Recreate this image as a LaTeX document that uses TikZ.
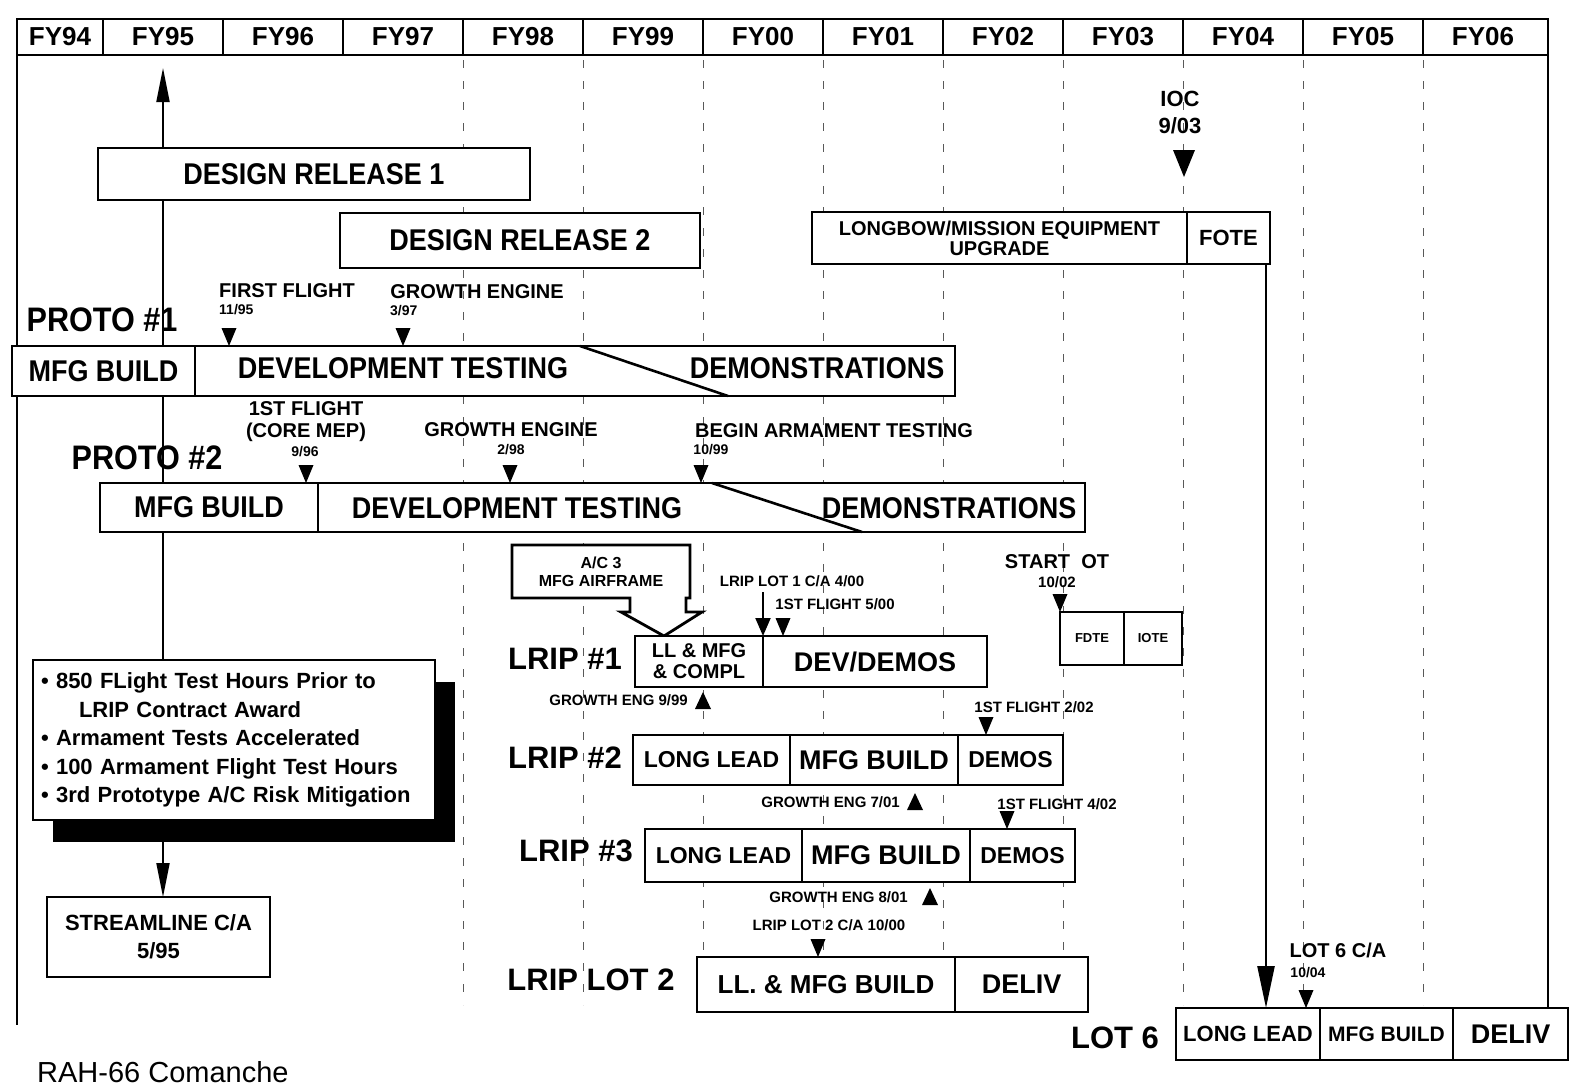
\documentclass[tikz,border=0pt]{standalone}
\usepackage{fontspec}
\setmainfont{Liberation Sans}
\newfontfamily\condfont{Liberation Sans}[FakeStretch=0.9]
\usetikzlibrary{positioning,arrows.meta,shadows,calc,backgrounds}

\newcommand{\fsz}[2]{\fontsize{#1pt}{#2pt}\selectfont}
\newcommand{\tridn}[2]{\fill (#1-7.5,#2-18) -- (#1+7.5,#2-18) -- (#1,#2) -- cycle;}
\newcommand{\triup}[2]{\fill (#1-8,#2) -- (#1+8,#2) -- (#1,#2-17) -- cycle;}

\begin{document}
\begin{tikzpicture}[x=1pt, y=-1pt]

		\tikzset{
		    seg/.style={draw, line width=2.6pt, fill=white, inner sep=0pt, outer sep=0pt, align=center, font=\bfseries\fsz{23}{25}},
		    proto/.style={seg, font=\condfont\bfseries\fsz{30}{32}},
		    bartext/.style={font=\condfont\bfseries\fsz{30}{32}, inner sep=0pt},
		    rowlab/.style={font=\bfseries\fsz{31}{33}, inner sep=0pt},
		    hdr/.style={font=\bfseries\fsz{26}{28}, inner sep=0pt},
		    ms/.style={font=\bfseries\fsz{20}{22}, align=center, inner sep=0pt},
		    msdate/.style={font=\bfseries\fsz{14}{15}, inner sep=0pt},
		    mssmall/.style={font=\bfseries\fsz{15}{16}, inner sep=0pt},
		    gridline/.style={line width=1pt, dash pattern=on 8pt off 13pt, black!65},
		    bigarrow/.style={line width=2pt, -{Triangle[width=13pt,length=34pt]}},
		    callarrow/.style={line width=2pt, -{Triangle[width=15pt,length=18pt]}},
		    notebox/.style={draw, line width=2.6pt, fill=white, inner xsep=8pt, inner ysep=0pt, outer sep=0pt,
		      align=left, text width=386pt, font=\bfseries\fsz{22}{28.5}}
		}

		\useasboundingbox (0,0) rectangle (1571,1090);

		% Fiscal years
		\draw[line width=2.6pt] (17,19) rectangle (1548,55);
		\foreach \x in {103,223,...,1423} \draw[line width=2.6pt] (\x,19) -- (\x,55);
		\node[hdr] (fy94) at (60,37) {FY94};
		\foreach \yr [count=\k from 0] in {95,96,97,98,99,00,01,02,03,04,05,06}
		  \node[hdr] (fy\yr) at (163+120*\k,37) {FY\yr};
		\draw[line width=2.6pt] (17,55) -- (17,1025);
		\draw[line width=2.6pt] (1548,55) -- (1548,1008);
		\foreach \x in {463,583,...,1423} \draw[gridline] (\x,60) -- (\x,1005);

		% Design releases
		\node[proto, minimum width=432pt, minimum height=52pt, anchor=north west] (dr1) at (98,148) {DESIGN RELEASE 1};
		\node[proto, minimum width=360pt, minimum height=55pt, anchor=north west] (dr2) at (340,213) {DESIGN RELEASE 2};

		% Prototype 1
		\node[rowlab, font=\condfont\bfseries\fsz{34}{36}] (p1lab) at (102,320) {PROTO \#1};
		\node[ms] (p1ff) at (287,291) {FIRST FLIGHT};
		\node[msdate, anchor=west] (p1ffd) at (219,310) {11/95};
		\node[ms] (p1ge) at (477,292) {GROWTH ENGINE};
		\node[msdate, anchor=west] (p1ged) at (390,311) {3/97};
		\tridn{229}{346}
		\tridn{403}{346}
		\node[proto, minimum width=183pt, minimum height=50pt, anchor=north west] (p1mfg) at (12,346) {MFG BUILD};
		\node[proto, minimum width=760pt, minimum height=50pt, right=0pt of p1mfg] (p1dev) {};
		\draw[line width=2.6pt] ($(p1dev.north west)+(385,0)$) -- ($(p1dev.south west)+(533,0)$);
		\node[bartext] (p1devt) at (403,368) {DEVELOPMENT TESTING};
		\node[bartext] (p1demo) at (817,368) {DEMONSTRATIONS};

		% Prototype 2
		\node[rowlab, font=\condfont\bfseries\fsz{34}{36}] (p2lab) at (147,458) {PROTO \#2};
		\node[ms] (p2ff) at (306,422) {1ST FLIGHT\\(CORE MEP)};
		\node[msdate] (p2ffd) at (305,452) {9/96};
		\node[ms] (p2ge) at (511,430) {GROWTH ENGINE};
		\node[msdate] (p2ged) at (511,450) {2/98};
		\node[ms] (p2arm) at (834,431) {BEGIN ARMAMENT TESTING};
		\node[msdate] (p2armd) at (711,450) {10/99};
		\tridn{306}{483}
		\tridn{510}{483}
		\tridn{701}{483}
		\node[proto, minimum width=218pt, minimum height=49pt, anchor=north west] (p2mfg) at (100,483) {MFG BUILD};
		\node[proto, minimum width=767pt, minimum height=49pt, right=0pt of p2mfg] (p2dev) {};
		\draw[line width=2.6pt] ($(p2dev.north west)+(394,0)$) -- ($(p2dev.south west)+(544,0)$);
		\node[bartext] (p2devt) at (517,508) {DEVELOPMENT TESTING};
		\node[bartext] (p2demo) at (949,508) {DEMONSTRATIONS};

		% Longbow upgrade and IOC
		\node[ms, font=\bfseries\fsz{22}{27}] (ioc) at (1180,113) {IOC\\9/03};
		\fill (1173,150) -- (1195,150) -- (1184,177) -- cycle;
		\node[seg, font=\bfseries\fsz{20}{20}, minimum width=375pt, minimum height=52pt, anchor=north west] (mep) at (812,212) {LONGBOW/MISSION EQUIPMENT\\UPGRADE};
		\node[seg, font=\bfseries\fsz{22}{24}, minimum width=83pt, minimum height=52pt, right=0pt of mep] (fote) {FOTE};

		% Operational test
		\node[ms] (sot) at (1057,562) {START\ \ OT};
		\node[msdate, font=\bfseries\fsz{15}{16}] (sotd) at (1057,582) {10/02};
		\tridn{1060}{612}
		\node[seg, font=\bfseries\fsz{13}{14}, minimum width=64pt, minimum height=53pt, anchor=north west] (fdte) at (1060,612) {FDTE};
		\node[seg, font=\bfseries\fsz{13}{14}, minimum width=58pt, minimum height=53pt, right=0pt of fdte] (iote) {IOTE};

		% A/C 3 callout
		\draw[line width=2.8pt, fill=white] (512,545) -- (690,545) -- (690,598) -- (686,598) -- (686,612) -- (702,612)
		  -- (664,636) -- (621,612) -- (630,612) -- (630,598) -- (512,598) -- cycle;
		\node[ms, font=\bfseries\fsz{16}{18}] (ac3) at (601,572) {A/C 3\\MFG AIRFRAME};

		% LRIP 1
		\node[rowlab] (l1lab) at (565,659) {LRIP \#1};
		\node[seg, font=\bfseries\fsz{20}{21}, minimum width=128pt, minimum height=51pt, anchor=north west] (l1a) at (635,636) {LL \& MFG\\\& COMPL};
		\node[seg, font=\bfseries\fsz{27}{29}, minimum width=224pt, minimum height=51pt, right=0pt of l1a] (l1b) {DEV/DEMOS};
		\node[mssmall] (lot1ca) at (792,581) {LRIP LOT 1 C/A 4/00};
		\coordinate (lot1cap) at (763,592);
		\draw[callarrow] (lot1cap) -- (l1a.north east);
		\node[mssmall] (l1ff) at (835,604) {1ST FLIGHT 5/00};
		\tridn{783}{636}
		\node[mssmall, anchor=east] (l1ge) at (688,700) {GROWTH ENG 9/99};
		\triup{703}{709}

		% LRIP 2
		\node[rowlab] (l2lab) at (565,758) {LRIP \#2};
		\node[seg, minimum width=157pt, minimum height=50pt, anchor=north west] (l2a) at (633,735) {LONG LEAD};
		\node[seg, font=\bfseries\fsz{27}{29}, minimum width=168pt, minimum height=50pt, right=0pt of l2a] (l2b) {MFG BUILD};
		\node[seg, minimum width=105pt, minimum height=50pt, right=0pt of l2b] (l2c) {DEMOS};
		\node[mssmall] (l2ff) at (1034,707) {1ST FLIGHT 2/02};
		\tridn{986}{735}
		\node[mssmall, anchor=east] (l2ge) at (900,802) {GROWTH ENG 7/01};
		\triup{915}{810}

		% LRIP 3
		\node[rowlab] (l3lab) at (576,851) {LRIP \#3};
		\node[seg, minimum width=157pt, minimum height=53pt, anchor=north west] (l3a) at (645,829) {LONG LEAD};
		\node[seg, font=\bfseries\fsz{27}{29}, minimum width=168pt, minimum height=53pt, right=0pt of l3a] (l3b) {MFG BUILD};
		\node[seg, minimum width=105pt, minimum height=53pt, right=0pt of l3b] (l3c) {DEMOS};
		\node[mssmall] (l3ff) at (1057,804) {1ST FLIGHT 4/02};
		\tridn{1007}{829}
		\node[mssmall, anchor=east] (l3ge) at (908,897) {GROWTH ENG 8/01};
		\triup{930}{905}

		% LRIP lot 2
		\node[mssmall] (lot2ca) at (829,925) {LRIP LOT 2 C/A 10/00};
		\tridn{818}{957}
		\node[rowlab] (lt2lab) at (591,980) {LRIP LOT 2};
		\node[seg, font=\bfseries\fsz{26}{28}, minimum width=258pt, minimum height=55pt, anchor=north west] (lt2a) at (697,957) {LL. \& MFG BUILD};
		\node[seg, font=\bfseries\fsz{27}{29}, minimum width=133pt, minimum height=55pt, right=0pt of lt2a] (lt2b) {DELIV};

		% Lot 6
		\node[ms] (l6ca) at (1338,950) {LOT 6 C/A};
		\node[msdate] (l6cad) at (1308,973) {10/04};
		\tridn{1306}{1008}
		\node[rowlab] (l6lab) at (1115,1038) {LOT 6};
		\node[seg, font=\bfseries\fsz{22}{24}, minimum width=144pt, minimum height=52pt, anchor=north west] (l6a) at (1176,1008) {LONG LEAD};
		\node[seg, font=\bfseries\fsz{21}{23}, minimum width=133pt, minimum height=52pt, right=0pt of l6a] (l6b) {MFG BUILD};
		\node[seg, font=\bfseries\fsz{27}{29}, minimum width=115pt, minimum height=52pt, right=0pt of l6b] (l6c) {DELIV};

		% Notes and streamline
		\node[notebox, anchor=north west, minimum width=402pt, minimum height=160pt,
		  drop shadow={shadow xshift=20pt, shadow yshift=-22pt, fill=black, opacity=1}] (note) at (33,660)
		  {• 850 FLight Test Hours Prior to\\\hspace*{38pt}LRIP Contract Award\\• Armament Tests Accelerated\\
		   • 100 Armament Flight Test Hours\\• 3rd Prototype A/C Risk Mitigation};
		\node[seg, font=\bfseries\fsz{22}{28}, minimum width=223pt, minimum height=80pt, anchor=north west] (stream) at (47,897) {STREAMLINE C/A\\5/95};

		\node[font=\fsz{29}{31}, anchor=west, inner sep=0pt] (title) at (37,1072) {RAH-66 Comanche};

		% Connectors
		\coordinate (uptip) at (163,68);
		\coordinate (l6arr) at (1266,0);
		\begin{scope}[on background layer]
		  \fill[white] (0,0) rectangle (1571,1090);
		  \draw[bigarrow] (dr1.north -| uptip) -- (uptip);
		  \draw[line width=2pt] (dr1.south -| uptip) -- (note.north -| uptip);
		  \draw[bigarrow] (note.south -| uptip) -- (stream.north -| uptip);
		  \draw[line width=2.4pt, -{Triangle[width=17pt,length=42pt]}] (fote.south -| l6arr) -- (l6a.north -| l6arr);
		\end{scope}

\end{tikzpicture}
\end{document}
